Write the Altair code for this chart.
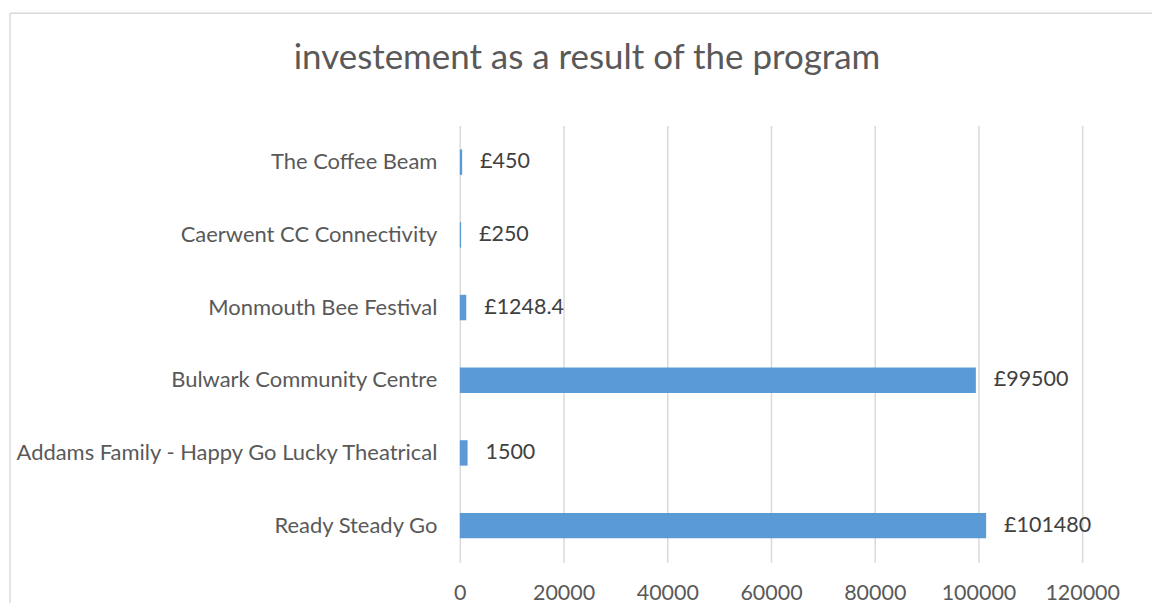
import altair as alt
import pandas as pd

categories = [
    "The Coffee Beam",
    "Caerwent CC Connectivity",
    "Monmouth Bee Festival",
    "Bulwark Community Centre",
    "Addams Family - Happy Go Lucky Theatrical",
    "Ready Steady Go",
]
values = [450, 250, 1248.4, 99500, 1500, 101480]
labels = ["£450", "£250", "£1248.4", "£99500", "1500", "£101480"]
x_ticks = [0, 20000, 40000, 60000, 80000, 100000, 120000]
title_text = "investement as a result of the program"

FONT = "Lato"
W, H = 624, 438
PAD_L, PAD_T = 453, 117

df = pd.DataFrame({"project": categories, "value": values, "label": labels})

x_enc = alt.X(
    "value:Q",
    scale=alt.Scale(domain=[0, 120000], nice=False),
    axis=alt.Axis(
        values=x_ticks, format="d", title=None, domain=False, ticks=False, grid=True,
        gridColor="#d9d9d9", gridWidth=1.5, labelFont=FONT, labelFontSize=21.5,
        labelColor="#595959", labelPadding=20, labelFlush=False,
    ),
)
y_enc = alt.Y(
    "project:N", sort=categories,
    scale=alt.Scale(paddingInner=0.65, paddingOuter=0.33),
    axis=alt.Axis(
        title=None, domain=False, ticks=False, grid=False, labelFont=FONT,
        labelFontSize=22, labelColor="#595959", labelPadding=23, labelLimit=600,
    ),
)

base = alt.Chart(df)
bars = base.mark_bar(color="#5b9bd5").encode(x=x_enc, y=y_enc)
text = base.mark_text(align="left", baseline="middle", dx=18, font=FONT,
                      fontSize=21.5, color="#404040").encode(
    x=alt.X("value:Q"), y=alt.Y("project:N", sort=categories), text="label:N")

title = alt.Chart(pd.DataFrame({"t": [title_text]})).mark_text(
    align="center", baseline="middle", font=FONT, fontSize=35, color="#595959"
).encode(x=alt.value(588.5 - 461), y=alt.value(57 - 124.5), text="t:N")

border_left = alt.Chart(pd.DataFrame({"a": [0]})).mark_rule(
    color="#d9d9d9", strokeWidth=1.5
).encode(x=alt.value(10 - 461), y=alt.value(12 - 124.5), y2=alt.value(603 - 124.5))
border_top = alt.Chart(pd.DataFrame({"a": [0]})).mark_rule(
    color="#d9d9d9", strokeWidth=1.5
).encode(y=alt.value(12 - 124.5), x=alt.value(10 - 461), x2=alt.value(1160 - 461))

chart = alt.layer(border_left, border_top, bars, text, title).properties(
    width=W, height=H,
    autosize=alt.AutoSizeParams(type="none"),
    padding={"left": PAD_L, "top": PAD_T, "right": 70, "bottom": 40},
).configure(background="white").configure_view(stroke=None)

chart.save("out.html", embed_options={"renderer": "svg", "actions": False})
